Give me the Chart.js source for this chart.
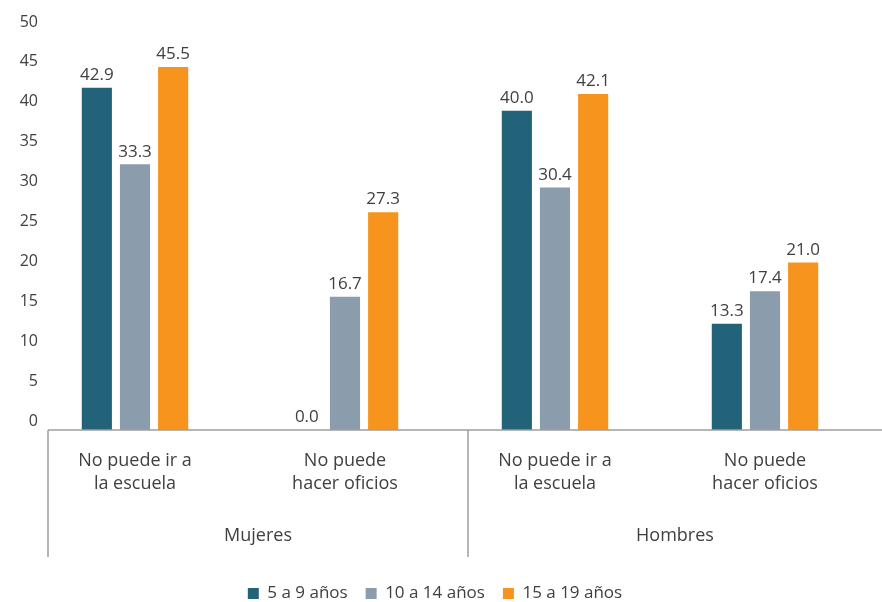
<!DOCTYPE html>
<html>
<head>
<meta charset="utf-8">
<script src="https://cdn.jsdelivr.net/npm/chart.js@4.4.0/dist/chart.umd.min.js"></script>
<style>
  html, body { margin: 0; padding: 0; background: #fff; }
  #wrap { width: 882px; height: 602px; position: relative; }
</style>
</head>
<body>
<div id="wrap"><canvas id="limitChart"></canvas></div>
<script>
// categories (two lines each) and the sex group they belong to
const categories = [
    ["No puede ir a", "la escuela"],
    ["No puede", "hacer oficios"],
    ["No puede ir a", "la escuela"],
    ["No puede", "hacer oficios"]
];
const groups = ["Mujeres", "Hombres"];

// percentages by age band
const age5to9 = [42.9, 0.0, 40.0, 13.3];
const age10to14 = [33.3, 16.7, 30.4, 17.4];
const age15to19 = [45.5, 27.3, 42.1, 21.0];

const seriesNames = ["5 a 9 años", "10 a 14 años", "15 a 19 años"];
const yTicks = [0, 5, 10, 15, 20, 25, 30, 35, 40, 45, 50];

const textColor = "#404040";
const lineColor = "#9e9e9e";
const fontFamily = "'Open Sans', Lato, sans-serif";

// y labels, value labels, group separators and group names under the axis
const annotate = {
    id: "annotate",
    afterDatasetsDraw(chart) {
        const ctx = chart.ctx;
        const x = chart.scales.x;
        const y = chart.scales.y;
        const base = y.getPixelForValue(0);
        const shift = 18;
        const sepLeft = x.left + shift;
        const sepMid = (x.getPixelForValue(1) + x.getPixelForValue(2)) / 2 + shift;
        const right = chart.width;

        ctx.save();
        ctx.strokeStyle = lineColor;
        ctx.lineWidth = 1.5;
        ctx.beginPath();
        ctx.moveTo(sepLeft, base);
        ctx.lineTo(right, base);
        ctx.moveTo(sepLeft, base);
        ctx.lineTo(sepLeft, base + 127);
        ctx.moveTo(sepMid, base);
        ctx.lineTo(sepMid, base + 127);
        ctx.stroke();

        ctx.fillStyle = textColor;
        ctx.textBaseline = "middle";

        // y tick labels sit a little above their value
        ctx.font = "16px " + fontFamily;
        ctx.textAlign = "right";
        yTicks.forEach(v => {
            ctx.fillText(String(v), x.left + 8, y.getPixelForValue(v) - 9);
        });

        ctx.textAlign = "center";
        ctx.font = "18px " + fontFamily;
        ctx.fillText(groups[0], (sepLeft + sepMid) / 2, base + 106);
        ctx.fillText(groups[1], (sepMid + right) / 2, base + 106);

        ctx.font = "17px " + fontFamily;
        ctx.textBaseline = "bottom";
        chart.data.datasets.forEach((ds, i) => {
            chart.getDatasetMeta(i).data.forEach((bar, j) => {
                ctx.fillText(ds.data[j].toFixed(1), bar.x, bar.y - 4);
            });
        });
        ctx.restore();
    }
};

new Chart(document.getElementById("limitChart"), {
    type: "bar",
    data: {
        labels: categories,
        datasets: [
            { label: seriesNames[0], data: age5to9, backgroundColor: "#236379" },
            { label: seriesNames[1], data: age10to14, backgroundColor: "#8b9dac" },
            { label: seriesNames[2], data: age15to19, backgroundColor: "#f7941e" }
        ]
    },
    options: {
        responsive: true,
        maintainAspectRatio: false,
        animation: false,
        layout: { padding: { top: 31, left: 0, right: 12, bottom: -10 } },
        datasets: { bar: { categoryPercentage: 0.545, barPercentage: 0.79 } },
        plugins: {
            legend: {
                position: "bottom",
                labels: {
                    color: textColor,
                    font: { family: fontFamily, size: 17 },
                    boxWidth: 11,
                    boxHeight: 11,
                    padding: 18
                }
            },
            tooltip: { enabled: false }
        },
        scales: {
            x: {
                grid: { display: false, drawTicks: false },
                border: { display: false },
                ticks: {
                    color: textColor,
                    font: { family: fontFamily, size: 18, lineHeight: 1.28 },
                    padding: 19,
                    maxRotation: 0
                },
                afterFit(scale) { scale.height = 137; }
            },
            y: {
                min: 0,
                max: 50,
                grid: { display: false, drawTicks: false },
                border: { display: false },
                ticks: { display: false },
                afterFit(scale) { scale.width = 30; }
            }
        }
    },
    plugins: [annotate]
});
</script>
</body>
</html>
